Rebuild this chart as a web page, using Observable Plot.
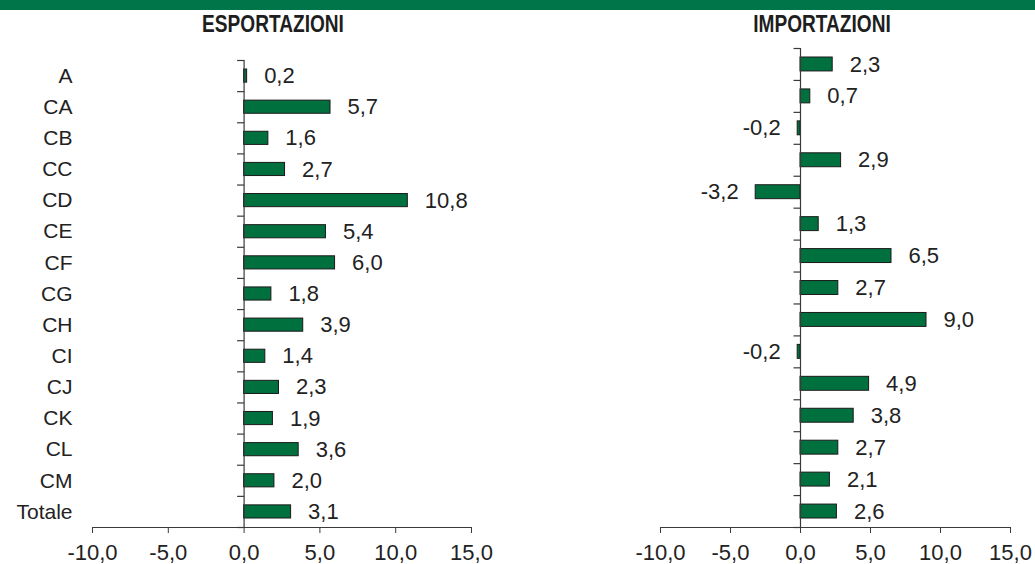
<!DOCTYPE html>
<html>
<head>
<meta charset="utf-8">
<script src="https://cdn.jsdelivr.net/npm/d3@7"></script>
<script src="https://cdn.jsdelivr.net/npm/@observablehq/plot@0.6"></script>
<style>
  html, body { margin: 0; padding: 0; background: #ffffff; }
  #wrap { position: relative; width: 1035px; height: 564px; overflow: hidden; background: #fff; }
  #banner { position: absolute; left: 0; top: 0; width: 1035px; height: 10px; background: #007549; }
  .title { position: absolute; top: 13px; font-family: "Liberation Sans Narrow", "Liberation Sans", sans-serif; font-weight: bold; font-size: 23px; line-height: 1; color: #1e1e1e; transform: translateX(-50%) scaleX(0.83); white-space: nowrap; }
  .panel { position: absolute; top: 0; }
</style>
</head>
<body>
<div id="wrap">
  <div id="banner"></div>
  <div class="title" id="t1" style="left:273px">ESPORTAZIONI</div>
  <div class="title" id="t2" style="left:822px">IMPORTAZIONI</div>
  <div class="panel" id="left" style="left:0px"></div>
  <div class="panel" id="right" style="left:520px"></div>
</div>
<script>
// ---- data ----
const categories = ["A","CA","CB","CC","CD","CE","CF","CG","CH","CI","CJ","CK","CL","CM","Totale"];
const esportazioni = [0.2, 5.7, 1.6, 2.7, 10.8, 5.4, 6.0, 1.8, 3.9, 1.4, 2.3, 1.9, 3.6, 2.0, 3.1];
const importazioni = [2.3, 0.7, -0.2, 2.9, -3.2, 1.3, 6.5, 2.7, 9.0, -0.2, 4.9, 3.8, 2.7, 2.1, 2.6];
const xTicks = [-10, -5, 0, 5, 10, 15];
const xDomain = [-10, 15];

const fmt = v => v.toFixed(1).replace(".", ",");
const BAR = "#00703f";
const INK = "#222222";
const AXIS = "#3a3a3a";

const leftTick = {
  draw(ctx) { ctx.moveTo(-7, 0); ctx.lineTo(0, 0); }
};

function panel(values, opts) {
  const rows = categories.map((c, i) => ({cat: c, i, v: values[i]}));
  const n = categories.length;
  const marks = [
    Plot.rectX(rows, {x1: 0, x2: "v", y1: d => d.i, y2: d => d.i + 1, insetTop: opts.inset, insetBottom: opts.inset, fill: BAR, stroke: "#1a1a1a", strokeWidth: 1}),
    Plot.ruleX([0], {y1: 0, y2: n, stroke: AXIS, strokeWidth: 1.2}),
    Plot.dot(d3.range(n + 1), {x: 0, y: d => d, symbol: leftTick, r: 4, fill: "none", stroke: AXIS, strokeWidth: 1.2}),
    Plot.ruleY([n], {x1: xDomain[0], x2: xDomain[1], stroke: AXIS, strokeWidth: 1.2}),
    Plot.axisX({ticks: xTicks, tickSize: 6, tickPadding: 11, tickFormat: fmt, fontSize: 22, stroke: AXIS, fill: INK, label: null}),
    Plot.text(rows, {filter: d => d.v >= 0, x: "v", y: d => d.i + 0.5, text: d => fmt(d.v), textAnchor: "start", dx: 17, fontSize: 22, fill: INK}),
    Plot.text(rows, {filter: d => d.v < 0, x: "v", y: d => d.i + 0.5, text: d => fmt(d.v), textAnchor: "end", dx: -17, fontSize: 22, fill: INK})
  ];
  if (opts.labels) {
    marks.push(Plot.axisY(d3.range(n).map(i => i + 0.5), {tickSize: 0, tickPadding: 20, tickFormat: d => categories[Math.floor(d)], fontSize: 21, fill: INK, label: null}));
  }
  return Plot.plot({
    width: opts.width,
    height: 564,
    marginLeft: opts.marginLeft,
    marginRight: opts.marginRight,
    marginTop: opts.marginTop,
    marginBottom: 37,
    x: {domain: xDomain, label: null},
    y: {domain: [0, n], reverse: true, axis: null, label: null},
    style: {fontFamily: "'Liberation Sans', Arial, sans-serif", fontSize: "21px", color: INK, background: "transparent", overflow: "visible"},
    marks
  });
}

document.getElementById("left").appendChild(panel(esportazioni, {width: 520, marginLeft: 92, marginRight: 49, marginTop: 60, inset: 9, labels: true}));
document.getElementById("right").appendChild(panel(importazioni, {width: 515, marginLeft: 140, marginRight: 25, marginTop: 48, inset: 9, labels: false}));
</script>
</body>
</html>
